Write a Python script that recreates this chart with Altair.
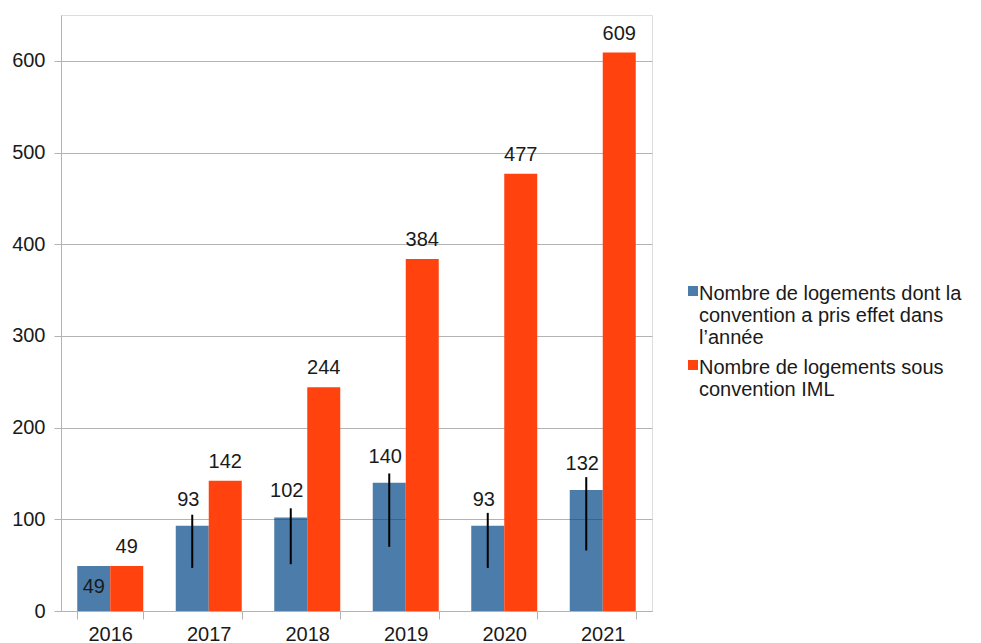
import altair as alt
import pandas as pd

years = ["2016", "2017", "2018", "2019", "2020", "2021"]
series_names = [
    "Nombre de logements dont la convention a pris effet dans l’année",
    "Nombre de logements sous convention IML",
]
legend_lines = [
    ["Nombre de logements dont la", "convention a pris effet dans", "l’année"],
    ["Nombre de logements sous", "convention IML"],
]
effet = [49, 93, 102, 140, 93, 132]
iml = [49, 142, 244, 384, 477, 609]
# vertical black markers drawn on the blue bars (low / high values)
mark_low = [None, 47, 51, 70, 47, 66]
mark_high = [None, 105, 112, 150, 107, 146]
colors = ["#004586", "#ff420e"]
y_ticks = [0, 100, 200, 300, 400, 500, 600]

rows = []
for i, y in enumerate(years):
    rows.append({"year": y, "series": series_names[0], "value": effet[i],
                 "low": mark_low[i], "high": mark_high[i]})
    rows.append({"year": y, "series": series_names[1], "value": iml[i],
                 "low": None, "high": None})
df = pd.DataFrame(rows)

label_map = " : ".join(
    [f"datum.label == '{series_names[0]}' ? {legend_lines[0]!r}", f"{legend_lines[1]!r}"]
)

FONT = "Liberation Sans"
FS = 20

x_enc = alt.X("year:N", title=None,
              scale=alt.Scale(paddingInner=0.33, paddingOuter=0.165),
              axis=alt.Axis(tickBand="extent", labelAngle=0, labelFontSize=FS,
                            labelColor="#1a1a1a", labelFont=FONT, tickSize=8,
                            labelPadding=5, tickColor="#b3b3b3", domainColor="#b3b3b3"))
y_enc = alt.Y("value:Q", title=None,
              scale=alt.Scale(domain=[0, 650], nice=False),
              axis=alt.Axis(values=y_ticks, labelFontSize=FS, labelColor="#1a1a1a",
                            labelFont=FONT, tickSize=7, labelPadding=9,
                            tickColor="#b3b3b3", domainColor="#b3b3b3",
                            gridColor="#b3b3b3", grid=True))
xoff = alt.XOffset("series:N", sort=series_names)

base = alt.Chart(df)

bars = base.mark_bar().encode(
    x=x_enc,
    y=y_enc,
    xOffset=xoff,
    color=alt.Color("series:N", sort=series_names,
                    scale=alt.Scale(domain=series_names, range=colors),
                    legend=alt.Legend(title=None, orient="none", legendX=618, legendY=259,
                                      labelFontSize=FS, labelFont=FONT, labelColor="#1a1a1a",
                                      symbolType="M-0.2,0.4H1.8V2.4H-0.2Z", symbolSize=100,
                                      symbolStrokeWidth=0, labelLimit=400,
                                      labelExpr=label_map, labelBaseline="top",
                                      labelOffset=0, rowPadding=0)),
    opacity=alt.Opacity("series:N", sort=series_names,
                        scale=alt.Scale(domain=series_names, range=[0.7, 1.0])),
)

text_blue = base.transform_filter(
    (alt.datum.series == series_names[0]) & (alt.datum.year != "2016")
).mark_text(fontSize=FS, font=FONT, color="#1a1a1a", dy=-26, dx=-4).encode(
    x="year:N", y="value:Q", xOffset=xoff, text="value:Q")

text_blue_in = base.transform_filter(
    (alt.datum.series == series_names[0]) & (alt.datum.year == "2016")
).mark_text(fontSize=FS, font=FONT, color="#1a1a1a", dy=21, dx=0).encode(
    x="year:N", y="value:Q", xOffset=xoff, text="value:Q")

text_orange = base.transform_filter(
    alt.datum.series == series_names[1]
).mark_text(fontSize=FS, font=FONT, color="#1a1a1a", dy=-19).encode(
    x="year:N", y="value:Q", xOffset=xoff, text="value:Q")

markers = base.transform_filter("isValid(datum.low)").mark_rule(
    color="#000000", strokeWidth=2).encode(
    x="year:N", y="low:Q", y2="high:Q", xOffset=xoff)

chart = alt.layer(bars, markers, text_blue, text_blue_in, text_orange).properties(
    width=591, height=596,
    padding={"left": 61, "top": 15, "right": 329, "bottom": 32},
    autosize=alt.AutoSizeParams(type="none"),
).configure_view(stroke="#b3b3b3", strokeWidth=1).configure(background="white")

chart.save("out.html", embed_options={"renderer": "svg", "actions": False})
